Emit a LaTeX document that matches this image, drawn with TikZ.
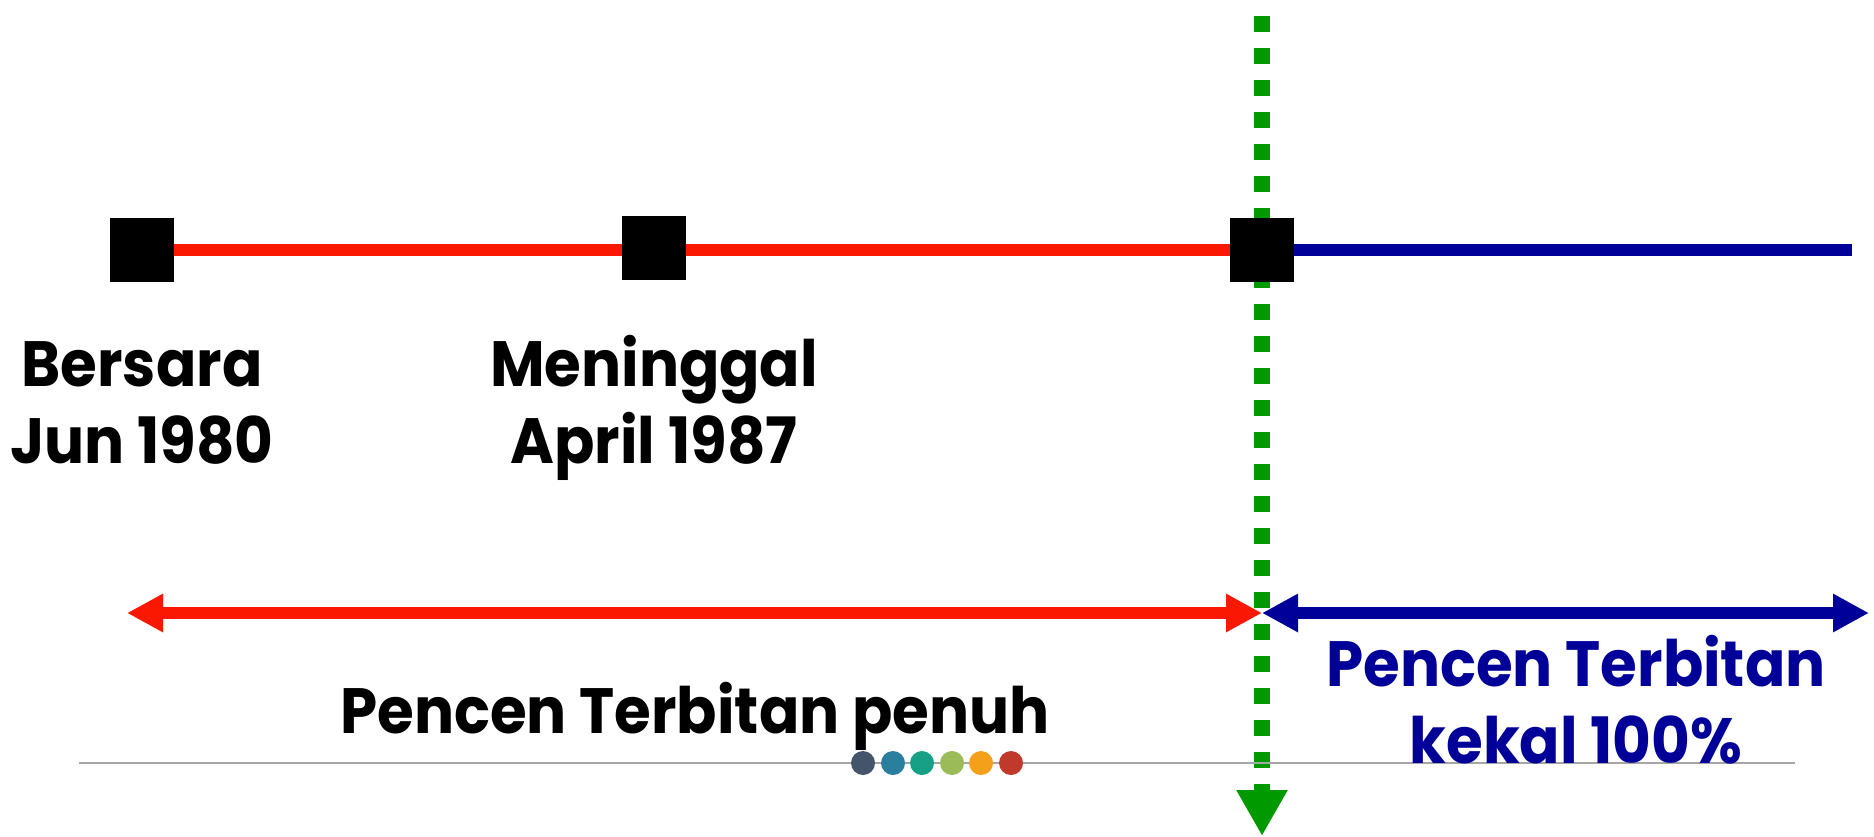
\documentclass[tikz,border=0pt]{standalone}
\usepackage{fontspec}
\setmainfont{Poppins}[FakeStretch=0.93]
\usetikzlibrary{arrows.meta}
\definecolor{tlred}{RGB}{250,25,0}
\definecolor{tlblue}{RGB}{0,0,153}
\definecolor{tlgreen}{RGB}{0,153,0}
\definecolor{tlgray}{RGB}{166,166,166}
\definecolor{d1}{RGB}{68,84,106}
\definecolor{d2}{RGB}{42,126,158}
\definecolor{d3}{RGB}{22,160,133}
\definecolor{d4}{RGB}{155,187,89}
\definecolor{d5}{RGB}{245,160,26}
\definecolor{d6}{RGB}{192,57,43}
\begin{document}
\begin{tikzpicture}[x=1pt,y=-1pt,
  marker/.style={fill=black,inner sep=0pt,minimum size=64pt},
  lab/.style={font=\fontsize{64}{77}\selectfont\bfseries,align=center,anchor=base,inner sep=0pt},
  span/.style={line width=12pt,{Triangle[length=36pt,width=36pt]}-{Triangle[length=36pt,width=36pt]}},
  dot/.style={circle,inner sep=0pt,minimum size=24pt}]
\useasboundingbox (0,0) rectangle (1874,836);
% coordinates
\coordinate (lend) at (1852,250);
\coordinate (gtop) at (1262,16);
\coordinate (gbot) at (1262,836);
\coordinate (al) at (127,613);
\coordinate (am) at (1262,613);
\coordinate (ar) at (1869,613);
\coordinate (gl) at (79,763);
\coordinate (gr) at (1795,763);
% timeline
\draw[tlred,line width=12pt] (142,250) -- (1262,250);
\draw[tlblue,line width=12pt] (1262,250) -- (lend);
% green dashed
\draw[tlgreen,line width=16pt,dash pattern=on 16pt off 16pt,-{Triangle[length=46pt,width=48pt]}] (gtop) -- (gbot);
% markers
\node[marker] (m1) at (142,250) {};
\node[marker] (m2) at (654,248) {};
\node[marker] (m3) at (1262,250) {};
% span arrows
\draw[span,tlred] (al) -- (am);
\draw[span,tlblue] (am) -- (ar);
% gray line and dots
\draw[tlgray,line width=2.5pt] (gl) -- (gr);
\node[dot,fill=d1] (c1) at (863,763) {};
\node[dot,fill=d2] (c2) at (893,763) {};
\node[dot,fill=d3] (c3) at (922,763) {};
\node[dot,fill=d4] (c4) at (952,763) {};
\node[dot,fill=d5] (c5) at (981,763) {};
\node[dot,fill=d6] (c6) at (1011,763) {};
% labels (anchor base = baseline of last line)
\node[lab] (t1) at (142,463) {Bersara\\Jun 1980};
\node[lab] (t2) at (654,463) {Meninggal\\April 1987};
\node[lab] (t3) at (695,733) {Pencen Terbitan penuh};
\node[lab,text=tlblue] (t4) at (1576,763) {Pencen Terbitan\\kekal 100\%};
\end{tikzpicture}
\end{document}
